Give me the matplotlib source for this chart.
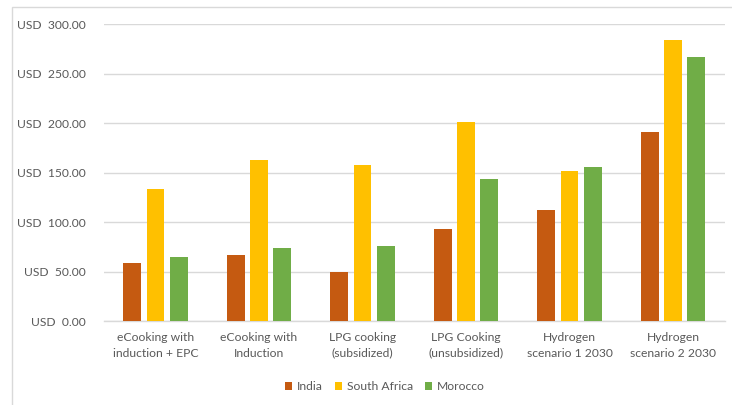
import matplotlib
matplotlib.use("Agg")
import matplotlib.pyplot as plt
import numpy as np
from matplotlib.patches import Rectangle

categories = ["eCooking with\ninduction + EPC", "eCooking with\nInduction", "LPG cooking\n(subsidized)",
              "LPG Cooking\n(unsubsidized)", "Hydrogen\nscenario 1 2030", "Hydrogen\nscenario 2 2030"]
india = [58.3, 66.7, 49.8, 92.9, 112.1, 191.2]
south_africa = [133.3, 162.3, 157.6, 201.0, 151.2, 283.8]
morocco = [64.6, 73.7, 75.8, 143.4, 155.6, 266.7]
series_names = ["India", "South Africa", "Morocco"]
colors = ["#C55A11", "#FFC000", "#70AD47"]
yticks = [0, 50, 100, 150, 200, 250, 300]

plt.rcParams['font.family'] = ['Lato', 'DejaVu Sans']
FS = 8.7

fig = plt.figure(figsize=(7.32, 4.05), dpi=100)
W, H = 732, 405
ax = fig.add_axes([103.75 / W, 1 - 321 / H, (724.7 - 103.75) / W, (321 - 24) / H])

x = np.arange(len(categories))
pitch = 0.225
width = 0.171
for i, (vals, name, c) in enumerate(zip([india, south_africa, morocco], series_names, colors)):
    ax.bar(x + (i - 1) * pitch, vals, width, color=c, label=name, zorder=3)

ax.set_xlim(-0.5, len(categories) - 0.5)
ax.set_ylim(0, 300)
ax.set_yticks(yticks)
ax.set_yticklabels([f"USD  {v:.2f}" for v in yticks])
ax.set_xticks(x)
ax.set_xticklabels(categories, linespacing=1.5)
ax.grid(axis='y', color='#D9D9D9', linewidth=1.0, zorder=0)
for s in ['top', 'right', 'left']:
    ax.spines[s].set_visible(False)
ax.spines['bottom'].set_color('#D9D9D9')
ax.spines['bottom'].set_linewidth(1.0)
ax.tick_params(axis='both', length=0, colors='#595959', labelsize=FS)
ax.tick_params(axis='y', pad=13)
ax.tick_params(axis='x', pad=8)

leg = fig.legend(loc='center', bbox_to_anchor=(385 / W, 1 - 387 / H), ncol=3, frameon=False,
                 fontsize=FS, handlelength=0.6, handleheight=0.6, handletextpad=0.4,
                 columnspacing=1.0)
for t in leg.get_texts():
    t.set_color('#595959')

fig.patches.append(Rectangle((12 / W, -0.1), 1.2, 1 - 7 / H + 0.1, transform=fig.transFigure,
                             fill=False, edgecolor='#D9D9D9', linewidth=1.0))

fig.savefig("out.png", dpi=100)
